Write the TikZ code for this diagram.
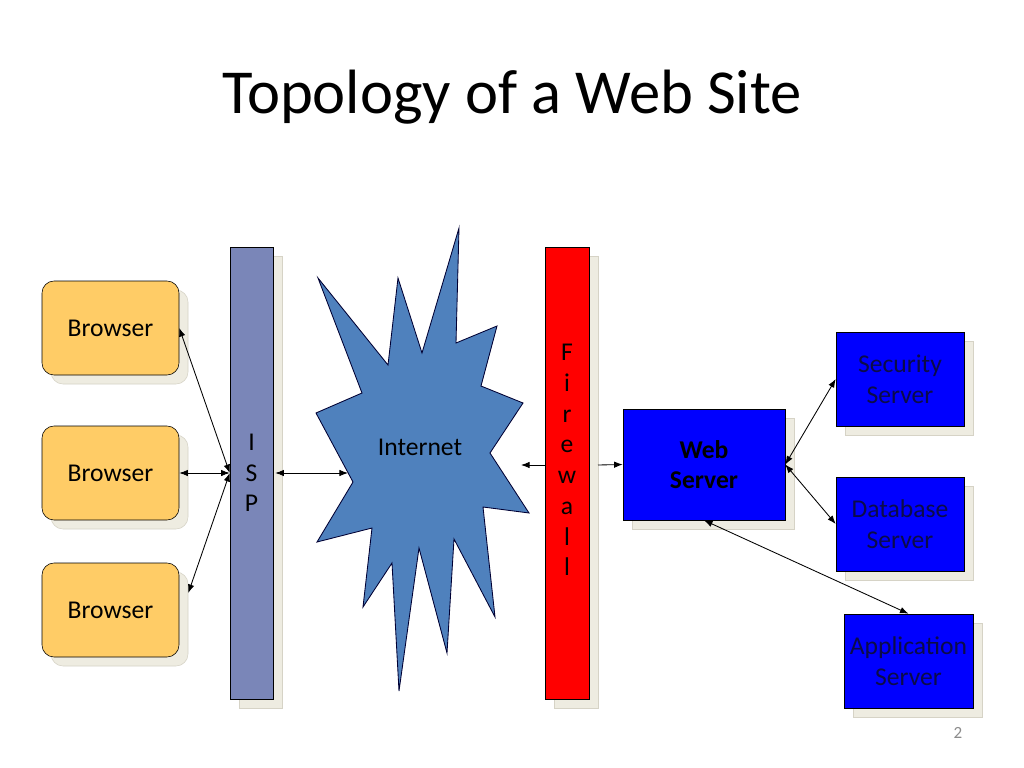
\documentclass[tikz,border=0pt]{standalone}
\usepackage{fontspec}
\setmainfont{Carlito}
\usepackage{tikz}
\usetikzlibrary{positioning,arrows.meta,calc,shadows}

\definecolor{browserfill}{HTML}{FFCC66}
\definecolor{ispfill}{HTML}{7A86B8}
\definecolor{netfill}{HTML}{4F81BD}
\definecolor{srvfill}{HTML}{0000FF}
\definecolor{srvtext}{HTML}{0C0C48}
\definecolor{shadowfill}{HTML}{EEECE1}
\definecolor{shadowline}{HTML}{D6D3C6}
\newcommand{\pxu}{0.703pt}

\tikzset{
  boxshadow/.style={drop shadow={shadow xshift=9*\pxu, shadow yshift=-9*\pxu,
    fill=shadowfill, draw=shadowline, opacity=1}},
  browserbox/.style={draw=black, fill=browserfill, rounded corners=12*\pxu,
    minimum width=137*\pxu, minimum height=94*\pxu, boxshadow},
  barbox/.style={draw=black, minimum width=43*\pxu, minimum height=452*\pxu,
    inner sep=0pt, align=center, boxshadow},
  serverbox/.style={draw=black, fill=srvfill, minimum width=128*\pxu,
    minimum height=94*\pxu, align=center, text=srvtext, boxshadow},
  link/.style={<->, line width=0.6pt},
  >={Latex[length=6pt,width=4.5pt]}
}

\begin{document}
\begin{tikzpicture}[
  x=\pxu, y=-\pxu,
  font=\fontsize{18}{21.6}\selectfont
]
\useasboundingbox[fill=white] (0,0) rectangle (1024,768);

% title and page number
\node (title) at (512,97) {\fontsize{44}{52}\selectfont Topology of a Web Site};
\node[text=black!45, font=\fontsize{12}{14}\selectfont] (pagenum) at (958,733) {2};

% browsers
\node[browserbox] (b1) at (110.5,328) {Browser};
\node[browserbox] (b2) at (110.5,473) {Browser};
\node[browserbox] (b3) at (110.5,610) {Browser};

% ISP and firewall
\node[barbox, fill=ispfill] (isp) at (251.5,473) {I\\S\\P};
\node[barbox, fill=red, minimum width=44*\pxu] (fw) at (567,473) {};
\node[align=center, inner sep=0pt] (fwtext) at (567,460) {F\\i\\r\\e\\w\\a\\l\\l};

% internet
\filldraw[fill=netfill, draw=black!80!blue, line width=0.6pt]
  (459,228) -- (456,343) -- (497,326) -- (481,386) -- (523,403) -- (490,453)
  -- (529,513) -- (483,507) -- (495,617) -- (454,539) -- (447,653) -- (419,548)
  -- (399,691) -- (392,563) -- (363,607) -- (372,528) -- (317,542) -- (353,482)
  -- (316,413) -- (362,393) -- (318,278) -- (388,365) -- (398,278) -- (422,353)
  -- cycle;
\node (inet) at (420,447) {Internet};
\coordinate (inetw) at (348,473);

% servers
\node[serverbox, fill=srvfill, minimum width=162*\pxu, minimum height=111*\pxu,
  text=black, font=\fontsize{18}{21.6}\selectfont\bfseries] (web) at (704,464.5) {Web\\Server};
\node[serverbox] (sec) at (900,379) {Security\\Server};
\node[serverbox] (db) at (900,524) {Database\\Server};
\node[serverbox, minimum width=129*\pxu, inner sep=0pt] (app) at (908.5,661) {Application\\Server};

% connectors
\draw[link] (b1.east) -- (isp.west);
\draw[link] (b2.east) -- (isp.west);
\draw[link] ($(b3.east)+(9,-17)$) -- (isp.west);
\draw[link] ($(isp.east)+(2,0)$) -- (inetw);
\coordinate (fwl) at (521,465);
\coordinate (fwr) at (598,465);
\draw[->, line width=0.6pt] (fw.west |- fwl) -- (fwl);
\draw[->, line width=0.6pt] (fwr) -- (web.west);
\draw[link] (web.east) -- (sec.west);
\draw[link] (web.east) -- (db.west);
\draw[link] (web.south) -- (app.north);
\end{tikzpicture}
\end{document}
